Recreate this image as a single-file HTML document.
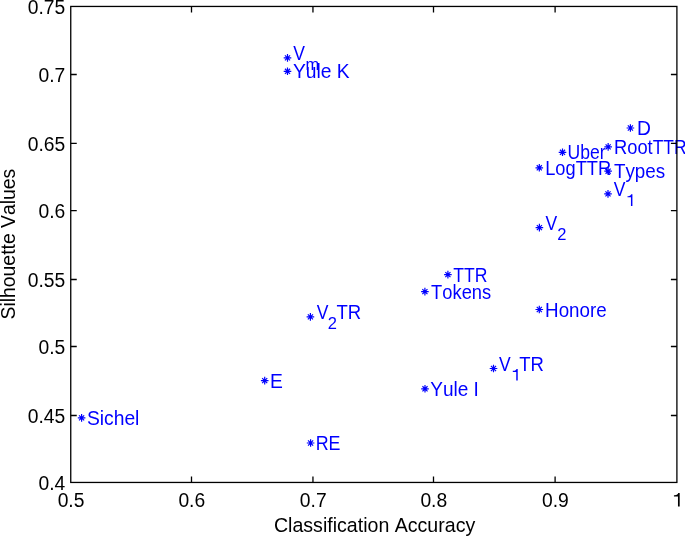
<!DOCTYPE html>
<html><head><meta charset="utf-8"><style>
html,body{margin:0;padding:0;background:#fff;overflow:hidden;}
svg{display:block;will-change:transform;}
text{font-family:"Liberation Sans",sans-serif;font-size:19.3px;font-kerning:none;font-variant-ligatures:none;}
</style></head><body>
<svg width="685" height="536" viewBox="0 0 685 536">
<rect width="685" height="536" fill="#fff"/>
<g id="labels" fill="#00f" stroke="none"><text id="Vm.V" x="293.30" y="59.95" textLength="11.70" lengthAdjust="spacingAndGlyphs">V</text><text id="Vm.s" x="305.40" y="69.85" style="font-size:16.5px">m</text><text id="YuleK" x="292.90" y="78.30">Yule K</text><text id="D" x="637.10" y="135.00">D</text><text id="Uber" x="567.50" y="159.30" textLength="38.09" lengthAdjust="spacingAndGlyphs">Uber</text><text id="RootTTR.a" x="614.00" y="153.90" textLength="38.65" lengthAdjust="spacingAndGlyphs">Root</text><text id="RootTTR.b" x="652.70" y="153.90" textLength="33.77" lengthAdjust="spacingAndGlyphs">TTR</text><text id="LogTTR" x="545.20" y="174.80" textLength="65.93" lengthAdjust="spacingAndGlyphs">LogTTR</text><text id="Types" x="613.90" y="178.20" textLength="51.30" lengthAdjust="spacingAndGlyphs">Types</text><text id="V1.V" x="613.80" y="196.00" textLength="11.70" lengthAdjust="spacingAndGlyphs">V</text><text id="V2.V" x="545.40" y="229.70" textLength="11.70" lengthAdjust="spacingAndGlyphs">V</text><text id="V2.s" x="557.30" y="239.60" style="font-size:16.5px">2</text><text id="TTR" x="453.30" y="281.60" textLength="34.20" lengthAdjust="spacingAndGlyphs">TTR</text><text id="Tokens" x="431.10" y="298.60" textLength="60.09" lengthAdjust="spacingAndGlyphs">Tokens</text><text id="Honore" x="545.10" y="316.50" textLength="61.61" lengthAdjust="spacingAndGlyphs">Honore</text><text id="V2TR.V" x="316.70" y="319.00" textLength="11.70" lengthAdjust="spacingAndGlyphs">V</text><text id="V2TR.s" x="327.70" y="328.90" style="font-size:16.5px">2</text><text id="V2TR.t" x="336.50" y="319.00" textLength="24.71" lengthAdjust="spacingAndGlyphs">TR</text><text id="V1TR.V" x="499.10" y="370.60" textLength="11.70" lengthAdjust="spacingAndGlyphs">V</text><text id="V1TR.t" x="519.30" y="370.60" textLength="24.68" lengthAdjust="spacingAndGlyphs">TR</text><text id="E" x="270.00" y="387.60">E</text><text id="YuleI" x="430.20" y="395.80" textLength="48.68" lengthAdjust="spacingAndGlyphs">Yule I</text><text id="Sichel" x="86.90" y="424.90">Sichel</text><text id="RE" x="315.70" y="450.00" textLength="24.81" lengthAdjust="spacingAndGlyphs">RE</text><path id="V1.s" d="M632.42 205.90L632.42 194.30L631.16 194.30C630.85 195.54 630.02 196.03 628.17 196.13L627.50 196.17L627.50 197.29L630.95 197.29L630.95 205.90Z"/><path id="V1TR.s" d="M517.72 380.50L517.72 368.90L516.46 368.90C516.15 370.14 515.32 370.63 513.48 370.73L512.80 370.76L512.80 371.89L516.25 371.89L516.25 380.50Z"/></g>
<path id="stars" d="M283.70 57.85H291.30M287.50 54.05V61.65M284.95 55.30L290.05 60.40M284.95 60.40L290.05 55.30M283.70 71.30H291.30M287.50 67.50V75.10M284.95 68.75L290.05 73.85M284.95 73.85L290.05 68.75M626.60 128.00H634.20M630.40 124.20V131.80M627.85 125.45L632.95 130.55M627.85 130.55L632.95 125.45M558.70 152.30H566.30M562.50 148.50V156.10M559.95 149.75L565.05 154.85M559.95 154.85L565.05 149.75M604.35 146.90H611.95M608.15 143.10V150.70M605.60 144.35L610.70 149.45M605.60 149.45L610.70 144.35M535.50 167.80H543.10M539.30 164.00V171.60M536.75 165.25L541.85 170.35M536.75 170.35L541.85 165.25M604.30 171.20H611.90M608.10 167.40V175.00M605.55 168.65L610.65 173.75M605.55 173.75L610.65 168.65M604.20 193.90H611.80M608.00 190.10V197.70M605.45 191.35L610.55 196.45M605.45 196.45L610.55 191.35M535.60 227.60H543.20M539.40 223.80V231.40M536.85 225.05L541.95 230.15M536.85 230.15L541.95 225.05M444.10 274.60H451.70M447.90 270.80V278.40M445.35 272.05L450.45 277.15M445.35 277.15L450.45 272.05M421.10 291.60H428.70M424.90 287.80V295.40M422.35 289.05L427.45 294.15M422.35 294.15L427.45 289.05M535.50 309.50H543.10M539.30 305.70V313.30M536.75 306.95L541.85 312.05M536.75 312.05L541.85 306.95M306.60 316.90H314.20M310.40 313.10V320.70M307.85 314.35L312.95 319.45M307.85 319.45L312.95 314.35M489.70 368.50H497.30M493.50 364.70V372.30M490.95 365.95L496.05 371.05M490.95 371.05L496.05 365.95M260.90 380.60H268.50M264.70 376.80V384.40M262.15 378.05L267.25 383.15M262.15 383.15L267.25 378.05M421.20 388.80H428.80M425.00 385.00V392.60M422.45 386.25L427.55 391.35M422.45 391.35L427.55 386.25M77.80 417.90H85.40M81.60 414.10V421.70M79.05 415.35L84.15 420.45M79.05 420.45L84.15 415.35M306.80 443.00H314.40M310.60 439.20V446.80M308.05 440.45L313.15 445.55M308.05 445.55L313.15 440.45" stroke="#00f" stroke-width="1.2" fill="none"/>
<g id="axes" stroke="#000" stroke-width="1.3" fill="none"><rect x="70.75" y="6.45" width="606.15" height="476.00"/><path d="M191.50 482.45V476.45M191.50 6.45V12.45M312.95 482.45V476.45M312.95 6.45V12.45M433.50 482.45V476.45M433.50 6.45V12.45M555.10 482.45V476.45M555.10 6.45V12.45M70.75 415.50H76.75M676.9 415.50H670.9M70.75 346.50H76.75M676.9 346.50H670.9M70.75 279.50H76.75M676.9 279.50H670.9M70.75 210.70H76.75M676.9 210.70H670.9M70.75 143.40H76.75M676.9 143.40H670.9M70.75 74.50H76.75M676.9 74.50H670.9"/></g>
<g id="ticklabels" fill="#000" stroke="none"><text id="xt0.5" x="71.05" y="506.60" text-anchor="middle">0.5</text><text id="xt0.6" x="191.80" y="506.60" text-anchor="middle">0.6</text><text id="xt0.7" x="313.25" y="506.60" text-anchor="middle">0.7</text><text id="xt0.8" x="433.80" y="506.60" text-anchor="middle">0.8</text><text id="xt0.9" x="555.40" y="506.60" text-anchor="middle">0.9</text><path id="xt1" d="M679.69 506.60L679.69 493.03L678.22 493.03C677.86 494.48 676.89 495.06 674.73 495.17L673.94 495.21L673.94 496.53L677.97 496.53L677.97 506.60Z"/><text id="yt0.4" x="65.30" y="489.75" text-anchor="end">0.4</text><text id="yt0.45" x="65.30" y="422.80" text-anchor="end">0.45</text><text id="yt0.5" x="65.30" y="353.80" text-anchor="end">0.5</text><text id="yt0.55" x="65.30" y="286.80" text-anchor="end">0.55</text><text id="yt0.6" x="65.30" y="218.00" text-anchor="end">0.6</text><text id="yt0.65" x="65.30" y="150.70" text-anchor="end">0.65</text><text id="yt0.7" x="65.30" y="81.80" text-anchor="end">0.7</text><text id="yt0.75" x="65.30" y="13.75" text-anchor="end">0.75</text></g>
<text id="xl" x="374.60" y="531.70" text-anchor="middle" fill="#000" textLength="201.37" lengthAdjust="spacingAndGlyphs">Classification Accuracy</text>
<text id="yl" transform="translate(14.60 244.10) rotate(-90)" text-anchor="middle" fill="#000" textLength="150.69" lengthAdjust="spacingAndGlyphs">Silhouette Values</text>
</svg>
</body></html>
